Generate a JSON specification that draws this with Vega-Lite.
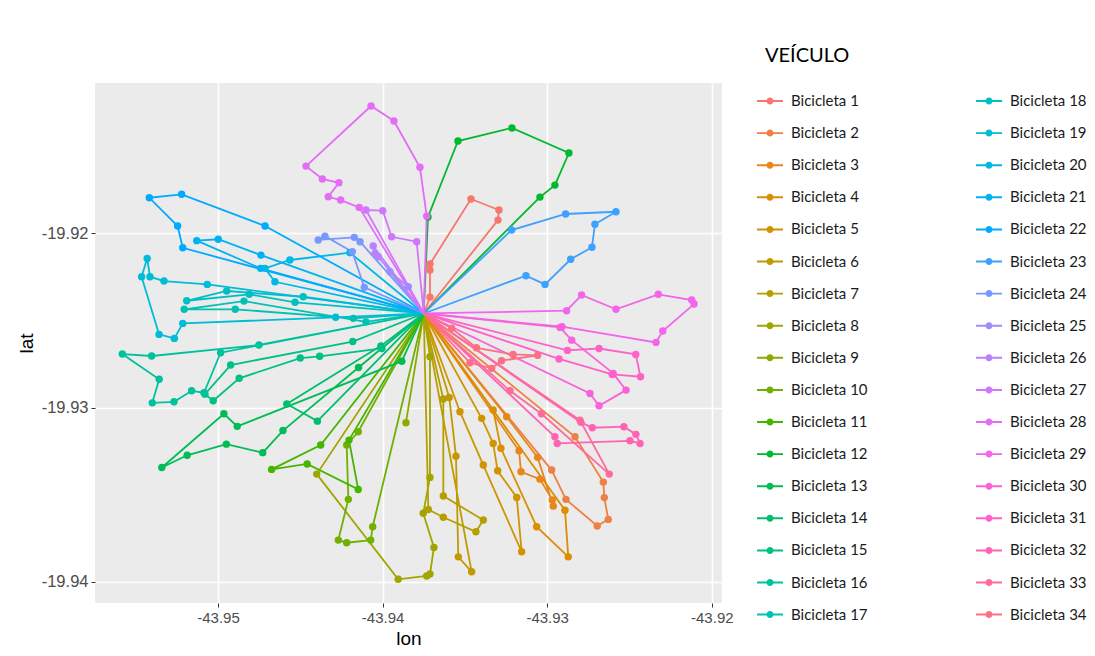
{
"$schema": "https://vega.github.io/schema/vega-lite/v6.json",
"width": 627, "height": 520,
"autosize": {"type": "none"},
"padding": {"left": 95, "top": 83, "right": 373, "bottom": 53},
"background": "white",
"config": {
 "view": {"fill": "#EBEBEB", "stroke": null},
 "axis": {"domain": false, "grid": true, "gridColor": "#FFFFFF", "gridWidth": 1.6, "tickColor": "#333333", "tickSize": 4, "tickWidth": 1, "labelColor": "#4D4D4D", "labelFont": "Liberation Sans", "labelFontSize": 15, "labelPadding": 3, "titleColor": "#000000", "titleFont": "Liberation Sans", "titleFontSize": 19, "titleFontWeight": "normal"}
},
"data": {"values": [
{"veiculo":"Bicicleta 1","seq":0,"dep":1,"lon":-43.9375,"lat":-19.9246},
{"veiculo":"Bicicleta 1","seq":1,"dep":0,"lon":-43.93712,"lat":-19.92366},
{"veiculo":"Bicicleta 1","seq":2,"dep":0,"lon":-43.93712,"lat":-19.92211},
{"veiculo":"Bicicleta 1","seq":3,"dep":0,"lon":-43.93712,"lat":-19.92176},
{"veiculo":"Bicicleta 1","seq":4,"dep":0,"lon":-43.93463,"lat":-19.91803},
{"veiculo":"Bicicleta 1","seq":5,"dep":0,"lon":-43.93293,"lat":-19.91866},
{"veiculo":"Bicicleta 1","seq":6,"dep":0,"lon":-43.93299,"lat":-19.91924},
{"veiculo":"Bicicleta 1","seq":7,"dep":1,"lon":-43.9375,"lat":-19.9246},
{"veiculo":"Bicicleta 2","seq":0,"dep":1,"lon":-43.9375,"lat":-19.9246},
{"veiculo":"Bicicleta 2","seq":1,"dep":0,"lon":-43.92831,"lat":-19.93168},
{"veiculo":"Bicicleta 2","seq":2,"dep":0,"lon":-43.92659,"lat":-19.93428},
{"veiculo":"Bicicleta 2","seq":3,"dep":0,"lon":-43.92653,"lat":-19.93517},
{"veiculo":"Bicicleta 2","seq":4,"dep":0,"lon":-43.92629,"lat":-19.93642},
{"veiculo":"Bicicleta 2","seq":5,"dep":0,"lon":-43.92696,"lat":-19.9368},
{"veiculo":"Bicicleta 2","seq":6,"dep":0,"lon":-43.92886,"lat":-19.93527},
{"veiculo":"Bicicleta 2","seq":7,"dep":0,"lon":-43.92973,"lat":-19.93359},
{"veiculo":"Bicicleta 2","seq":8,"dep":1,"lon":-43.9375,"lat":-19.9246},
{"veiculo":"Bicicleta 3","seq":0,"dep":1,"lon":-43.9375,"lat":-19.9246},
{"veiculo":"Bicicleta 3","seq":1,"dep":0,"lon":-43.93246,"lat":-19.93053},
{"veiculo":"Bicicleta 3","seq":2,"dep":0,"lon":-43.93058,"lat":-19.93286},
{"veiculo":"Bicicleta 3","seq":3,"dep":0,"lon":-43.92963,"lat":-19.93566},
{"veiculo":"Bicicleta 3","seq":4,"dep":0,"lon":-43.92969,"lat":-19.93531},
{"veiculo":"Bicicleta 3","seq":5,"dep":0,"lon":-43.93044,"lat":-19.93411},
{"veiculo":"Bicicleta 3","seq":6,"dep":0,"lon":-43.93159,"lat":-19.93369},
{"veiculo":"Bicicleta 3","seq":7,"dep":0,"lon":-43.93171,"lat":-19.93248},
{"veiculo":"Bicicleta 3","seq":8,"dep":1,"lon":-43.9375,"lat":-19.9246},
{"veiculo":"Bicicleta 4","seq":0,"dep":1,"lon":-43.9375,"lat":-19.9246},
{"veiculo":"Bicicleta 4","seq":1,"dep":0,"lon":-43.93328,"lat":-19.93014},
{"veiculo":"Bicicleta 4","seq":2,"dep":0,"lon":-43.93281,"lat":-19.93234},
{"veiculo":"Bicicleta 4","seq":3,"dep":0,"lon":-43.93064,"lat":-19.93684},
{"veiculo":"Bicicleta 4","seq":4,"dep":0,"lon":-43.92872,"lat":-19.93857},
{"veiculo":"Bicicleta 4","seq":5,"dep":0,"lon":-43.92892,"lat":-19.93589},
{"veiculo":"Bicicleta 4","seq":6,"dep":1,"lon":-43.9375,"lat":-19.9246},
{"veiculo":"Bicicleta 5","seq":0,"dep":1,"lon":-43.9375,"lat":-19.9246},
{"veiculo":"Bicicleta 5","seq":1,"dep":0,"lon":-43.9353,"lat":-19.93024},
{"veiculo":"Bicicleta 5","seq":2,"dep":0,"lon":-43.93388,"lat":-19.9333},
{"veiculo":"Bicicleta 5","seq":3,"dep":0,"lon":-43.93155,"lat":-19.93828},
{"veiculo":"Bicicleta 5","seq":4,"dep":0,"lon":-43.93185,"lat":-19.93516},
{"veiculo":"Bicicleta 5","seq":5,"dep":0,"lon":-43.93301,"lat":-19.93363},
{"veiculo":"Bicicleta 5","seq":6,"dep":0,"lon":-43.93328,"lat":-19.93206},
{"veiculo":"Bicicleta 5","seq":7,"dep":0,"lon":-43.93398,"lat":-19.93062},
{"veiculo":"Bicicleta 5","seq":8,"dep":1,"lon":-43.9375,"lat":-19.9246},
{"veiculo":"Bicicleta 6","seq":0,"dep":1,"lon":-43.9375,"lat":-19.9246},
{"veiculo":"Bicicleta 6","seq":1,"dep":0,"lon":-43.93595,"lat":-19.92942},
{"veiculo":"Bicicleta 6","seq":2,"dep":0,"lon":-43.93554,"lat":-19.93279},
{"veiculo":"Bicicleta 6","seq":3,"dep":0,"lon":-43.9354,"lat":-19.93857},
{"veiculo":"Bicicleta 6","seq":4,"dep":0,"lon":-43.93459,"lat":-19.93943},
{"veiculo":"Bicicleta 6","seq":5,"dep":1,"lon":-43.9375,"lat":-19.9246},
{"veiculo":"Bicicleta 7","seq":0,"dep":1,"lon":-43.9375,"lat":-19.9246},
{"veiculo":"Bicicleta 7","seq":1,"dep":0,"lon":-43.93631,"lat":-19.92951},
{"veiculo":"Bicicleta 7","seq":2,"dep":0,"lon":-43.93631,"lat":-19.93508},
{"veiculo":"Bicicleta 7","seq":3,"dep":0,"lon":-43.93388,"lat":-19.93646},
{"veiculo":"Bicicleta 7","seq":4,"dep":0,"lon":-43.93433,"lat":-19.93713},
{"veiculo":"Bicicleta 7","seq":5,"dep":0,"lon":-43.93631,"lat":-19.9363},
{"veiculo":"Bicicleta 7","seq":6,"dep":0,"lon":-43.93722,"lat":-19.93585},
{"veiculo":"Bicicleta 7","seq":7,"dep":1,"lon":-43.9375,"lat":-19.9246},
{"veiculo":"Bicicleta 8","seq":0,"dep":1,"lon":-43.9375,"lat":-19.9246},
{"veiculo":"Bicicleta 8","seq":1,"dep":0,"lon":-43.93712,"lat":-19.92708},
{"veiculo":"Bicicleta 8","seq":2,"dep":0,"lon":-43.93712,"lat":-19.93401},
{"veiculo":"Bicicleta 8","seq":3,"dep":0,"lon":-43.93753,"lat":-19.93607},
{"veiculo":"Bicicleta 8","seq":4,"dep":0,"lon":-43.93688,"lat":-19.93803},
{"veiculo":"Bicicleta 8","seq":5,"dep":0,"lon":-43.93712,"lat":-19.93956},
{"veiculo":"Bicicleta 8","seq":6,"dep":0,"lon":-43.93732,"lat":-19.93967},
{"veiculo":"Bicicleta 8","seq":7,"dep":0,"lon":-43.93905,"lat":-19.93986},
{"veiculo":"Bicicleta 8","seq":8,"dep":0,"lon":-43.944,"lat":-19.93382},
{"veiculo":"Bicicleta 8","seq":9,"dep":1,"lon":-43.9375,"lat":-19.9246},
{"veiculo":"Bicicleta 9","seq":0,"dep":1,"lon":-43.9375,"lat":-19.9246},
{"veiculo":"Bicicleta 9","seq":1,"dep":0,"lon":-43.93858,"lat":-19.93087},
{"veiculo":"Bicicleta 9","seq":2,"dep":1,"lon":-43.9375,"lat":-19.9246},
{"veiculo":"Bicicleta 10","seq":0,"dep":1,"lon":-43.9375,"lat":-19.9246},
{"veiculo":"Bicicleta 10","seq":1,"dep":0,"lon":-43.9406,"lat":-19.93684},
{"veiculo":"Bicicleta 10","seq":2,"dep":0,"lon":-43.94072,"lat":-19.93761},
{"veiculo":"Bicicleta 10","seq":3,"dep":0,"lon":-43.94218,"lat":-19.93776},
{"veiculo":"Bicicleta 10","seq":4,"dep":0,"lon":-43.94269,"lat":-19.93761},
{"veiculo":"Bicicleta 10","seq":5,"dep":0,"lon":-43.94208,"lat":-19.93527},
{"veiculo":"Bicicleta 10","seq":6,"dep":0,"lon":-43.94218,"lat":-19.93215},
{"veiculo":"Bicicleta 10","seq":7,"dep":0,"lon":-43.94148,"lat":-19.93139},
{"veiculo":"Bicicleta 10","seq":8,"dep":1,"lon":-43.9375,"lat":-19.9246},
{"veiculo":"Bicicleta 11","seq":0,"dep":1,"lon":-43.9375,"lat":-19.9246},
{"veiculo":"Bicicleta 11","seq":1,"dep":0,"lon":-43.94376,"lat":-19.93215},
{"veiculo":"Bicicleta 11","seq":2,"dep":0,"lon":-43.94674,"lat":-19.93355},
{"veiculo":"Bicicleta 11","seq":3,"dep":0,"lon":-43.94458,"lat":-19.93324},
{"veiculo":"Bicicleta 11","seq":4,"dep":0,"lon":-43.94148,"lat":-19.9347},
{"veiculo":"Bicicleta 11","seq":5,"dep":0,"lon":-43.94204,"lat":-19.93187},
{"veiculo":"Bicicleta 11","seq":6,"dep":1,"lon":-43.9375,"lat":-19.9246},
{"veiculo":"Bicicleta 12","seq":0,"dep":1,"lon":-43.9375,"lat":-19.9246},
{"veiculo":"Bicicleta 12","seq":1,"dep":0,"lon":-43.93724,"lat":-19.91906},
{"veiculo":"Bicicleta 12","seq":2,"dep":0,"lon":-43.93542,"lat":-19.9147},
{"veiculo":"Bicicleta 12","seq":3,"dep":0,"lon":-43.93214,"lat":-19.91395},
{"veiculo":"Bicicleta 12","seq":4,"dep":0,"lon":-43.92868,"lat":-19.91539},
{"veiculo":"Bicicleta 12","seq":5,"dep":0,"lon":-43.92953,"lat":-19.91723},
{"veiculo":"Bicicleta 12","seq":6,"dep":0,"lon":-43.93044,"lat":-19.91792},
{"veiculo":"Bicicleta 12","seq":7,"dep":1,"lon":-43.9375,"lat":-19.9246},
{"veiculo":"Bicicleta 13","seq":0,"dep":1,"lon":-43.9375,"lat":-19.9246},
{"veiculo":"Bicicleta 13","seq":1,"dep":0,"lon":-43.94146,"lat":-19.9277},
{"veiculo":"Bicicleta 13","seq":2,"dep":0,"lon":-43.94605,"lat":-19.93132},
{"veiculo":"Bicicleta 13","seq":3,"dep":0,"lon":-43.94728,"lat":-19.93259},
{"veiculo":"Bicicleta 13","seq":4,"dep":0,"lon":-43.94949,"lat":-19.9321},
{"veiculo":"Bicicleta 13","seq":5,"dep":0,"lon":-43.95187,"lat":-19.93274},
{"veiculo":"Bicicleta 13","seq":6,"dep":0,"lon":-43.95341,"lat":-19.93344},
{"veiculo":"Bicicleta 13","seq":7,"dep":0,"lon":-43.94964,"lat":-19.93036},
{"veiculo":"Bicicleta 13","seq":8,"dep":0,"lon":-43.94883,"lat":-19.93108},
{"veiculo":"Bicicleta 13","seq":9,"dep":0,"lon":-43.93883,"lat":-19.92734},
{"veiculo":"Bicicleta 13","seq":10,"dep":1,"lon":-43.9375,"lat":-19.9246},
{"veiculo":"Bicicleta 14","seq":0,"dep":1,"lon":-43.9375,"lat":-19.9246},
{"veiculo":"Bicicleta 14","seq":1,"dep":0,"lon":-43.9401,"lat":-19.92646},
{"veiculo":"Bicicleta 14","seq":2,"dep":0,"lon":-43.94582,"lat":-19.9298},
{"veiculo":"Bicicleta 14","seq":3,"dep":0,"lon":-43.94396,"lat":-19.93078},
{"veiculo":"Bicicleta 14","seq":4,"dep":1,"lon":-43.9375,"lat":-19.9246},
{"veiculo":"Bicicleta 15","seq":0,"dep":1,"lon":-43.9375,"lat":-19.9246},
{"veiculo":"Bicicleta 15","seq":1,"dep":0,"lon":-43.94004,"lat":-19.92661},
{"veiculo":"Bicicleta 15","seq":2,"dep":0,"lon":-43.94382,"lat":-19.92706},
{"veiculo":"Bicicleta 15","seq":3,"dep":0,"lon":-43.945,"lat":-19.92716},
{"veiculo":"Bicicleta 15","seq":4,"dep":0,"lon":-43.94871,"lat":-19.92832},
{"veiculo":"Bicicleta 15","seq":5,"dep":0,"lon":-43.95029,"lat":-19.92961},
{"veiculo":"Bicicleta 15","seq":6,"dep":0,"lon":-43.95079,"lat":-19.92923},
{"veiculo":"Bicicleta 15","seq":7,"dep":0,"lon":-43.94923,"lat":-19.92756},
{"veiculo":"Bicicleta 15","seq":8,"dep":0,"lon":-43.94181,"lat":-19.92621},
{"veiculo":"Bicicleta 15","seq":9,"dep":1,"lon":-43.9375,"lat":-19.9246},
{"veiculo":"Bicicleta 16","seq":0,"dep":1,"lon":-43.9375,"lat":-19.9246},
{"veiculo":"Bicicleta 16","seq":1,"dep":0,"lon":-43.94751,"lat":-19.92641},
{"veiculo":"Bicicleta 16","seq":2,"dep":0,"lon":-43.95403,"lat":-19.92704},
{"veiculo":"Bicicleta 16","seq":3,"dep":0,"lon":-43.95581,"lat":-19.92693},
{"veiculo":"Bicicleta 16","seq":4,"dep":0,"lon":-43.95357,"lat":-19.92838},
{"veiculo":"Bicicleta 16","seq":5,"dep":0,"lon":-43.95399,"lat":-19.92973},
{"veiculo":"Bicicleta 16","seq":6,"dep":0,"lon":-43.95267,"lat":-19.92967},
{"veiculo":"Bicicleta 16","seq":7,"dep":0,"lon":-43.9516,"lat":-19.92904},
{"veiculo":"Bicicleta 16","seq":8,"dep":0,"lon":-43.95085,"lat":-19.92915},
{"veiculo":"Bicicleta 16","seq":9,"dep":0,"lon":-43.94984,"lat":-19.92685},
{"veiculo":"Bicicleta 16","seq":10,"dep":1,"lon":-43.9375,"lat":-19.9246},
{"veiculo":"Bicicleta 17","seq":0,"dep":1,"lon":-43.9375,"lat":-19.9246},
{"veiculo":"Bicicleta 17","seq":1,"dep":0,"lon":-43.94101,"lat":-19.92508},
{"veiculo":"Bicicleta 17","seq":2,"dep":0,"lon":-43.94842,"lat":-19.92389},
{"veiculo":"Bicicleta 17","seq":3,"dep":0,"lon":-43.95205,"lat":-19.92436},
{"veiculo":"Bicicleta 17","seq":4,"dep":0,"lon":-43.94895,"lat":-19.92436},
{"veiculo":"Bicicleta 17","seq":5,"dep":0,"lon":-43.94178,"lat":-19.92488},
{"veiculo":"Bicicleta 17","seq":6,"dep":1,"lon":-43.9375,"lat":-19.9246},
{"veiculo":"Bicicleta 18","seq":0,"dep":1,"lon":-43.9375,"lat":-19.9246},
{"veiculo":"Bicicleta 18","seq":1,"dep":0,"lon":-43.94482,"lat":-19.92364},
{"veiculo":"Bicicleta 18","seq":2,"dep":0,"lon":-43.94947,"lat":-19.92331},
{"veiculo":"Bicicleta 18","seq":3,"dep":0,"lon":-43.9519,"lat":-19.92387},
{"veiculo":"Bicicleta 18","seq":4,"dep":0,"lon":-43.9481,"lat":-19.9235},
{"veiculo":"Bicicleta 18","seq":5,"dep":0,"lon":-43.94532,"lat":-19.92396},
{"veiculo":"Bicicleta 18","seq":6,"dep":1,"lon":-43.9375,"lat":-19.9246},
{"veiculo":"Bicicleta 19","seq":0,"dep":1,"lon":-43.9375,"lat":-19.9246},
{"veiculo":"Bicicleta 19","seq":1,"dep":0,"lon":-43.95065,"lat":-19.92293},
{"veiculo":"Bicicleta 19","seq":2,"dep":0,"lon":-43.95328,"lat":-19.92274},
{"veiculo":"Bicicleta 19","seq":3,"dep":0,"lon":-43.95413,"lat":-19.92249},
{"veiculo":"Bicicleta 19","seq":4,"dep":0,"lon":-43.9543,"lat":-19.92144},
{"veiculo":"Bicicleta 19","seq":5,"dep":0,"lon":-43.95464,"lat":-19.92249},
{"veiculo":"Bicicleta 19","seq":6,"dep":0,"lon":-43.95358,"lat":-19.9258},
{"veiculo":"Bicicleta 19","seq":7,"dep":0,"lon":-43.95265,"lat":-19.92603},
{"veiculo":"Bicicleta 19","seq":8,"dep":0,"lon":-43.95214,"lat":-19.92517},
{"veiculo":"Bicicleta 19","seq":9,"dep":0,"lon":-43.94285,"lat":-19.92482},
{"veiculo":"Bicicleta 19","seq":10,"dep":1,"lon":-43.9375,"lat":-19.9246},
{"veiculo":"Bicicleta 20","seq":0,"dep":1,"lon":-43.9375,"lat":-19.9246},
{"veiculo":"Bicicleta 20","seq":1,"dep":0,"lon":-43.94198,"lat":-19.92111},
{"veiculo":"Bicicleta 20","seq":2,"dep":0,"lon":-43.94563,"lat":-19.92153},
{"veiculo":"Bicicleta 20","seq":3,"dep":0,"lon":-43.94714,"lat":-19.92201},
{"veiculo":"Bicicleta 20","seq":4,"dep":0,"lon":-43.94654,"lat":-19.92278},
{"veiculo":"Bicicleta 20","seq":5,"dep":1,"lon":-43.9375,"lat":-19.9246},
{"veiculo":"Bicicleta 21","seq":0,"dep":1,"lon":-43.9375,"lat":-19.9246},
{"veiculo":"Bicicleta 21","seq":1,"dep":0,"lon":-43.94739,"lat":-19.92125},
{"veiculo":"Bicicleta 21","seq":2,"dep":0,"lon":-43.94998,"lat":-19.92034},
{"veiculo":"Bicicleta 21","seq":3,"dep":0,"lon":-43.95129,"lat":-19.92042},
{"veiculo":"Bicicleta 21","seq":4,"dep":0,"lon":-43.94741,"lat":-19.92201},
{"veiculo":"Bicicleta 21","seq":5,"dep":1,"lon":-43.9375,"lat":-19.9246},
{"veiculo":"Bicicleta 22","seq":0,"dep":1,"lon":-43.9375,"lat":-19.9246},
{"veiculo":"Bicicleta 22","seq":1,"dep":0,"lon":-43.94714,"lat":-19.91958},
{"veiculo":"Bicicleta 22","seq":2,"dep":0,"lon":-43.95221,"lat":-19.91776},
{"veiculo":"Bicicleta 22","seq":3,"dep":0,"lon":-43.95417,"lat":-19.91796},
{"veiculo":"Bicicleta 22","seq":4,"dep":0,"lon":-43.95245,"lat":-19.91958},
{"veiculo":"Bicicleta 22","seq":5,"dep":0,"lon":-43.95214,"lat":-19.92083},
{"veiculo":"Bicicleta 22","seq":6,"dep":1,"lon":-43.9375,"lat":-19.9246},
{"veiculo":"Bicicleta 23","seq":0,"dep":1,"lon":-43.9375,"lat":-19.9246},
{"veiculo":"Bicicleta 23","seq":1,"dep":0,"lon":-43.93216,"lat":-19.91981},
{"veiculo":"Bicicleta 23","seq":2,"dep":0,"lon":-43.92888,"lat":-19.91889},
{"veiculo":"Bicicleta 23","seq":3,"dep":0,"lon":-43.92582,"lat":-19.91876},
{"veiculo":"Bicicleta 23","seq":4,"dep":0,"lon":-43.9271,"lat":-19.91948},
{"veiculo":"Bicicleta 23","seq":5,"dep":0,"lon":-43.92728,"lat":-19.9208},
{"veiculo":"Bicicleta 23","seq":6,"dep":0,"lon":-43.92857,"lat":-19.92149},
{"veiculo":"Bicicleta 23","seq":7,"dep":0,"lon":-43.93013,"lat":-19.92293},
{"veiculo":"Bicicleta 23","seq":8,"dep":0,"lon":-43.93129,"lat":-19.92243},
{"veiculo":"Bicicleta 23","seq":9,"dep":1,"lon":-43.9375,"lat":-19.9246},
{"veiculo":"Bicicleta 24","seq":0,"dep":1,"lon":-43.9375,"lat":-19.9246},
{"veiculo":"Bicicleta 24","seq":1,"dep":0,"lon":-43.94137,"lat":-19.92048},
{"veiculo":"Bicicleta 24","seq":2,"dep":0,"lon":-43.94172,"lat":-19.92023},
{"veiculo":"Bicicleta 24","seq":3,"dep":0,"lon":-43.94391,"lat":-19.92038},
{"veiculo":"Bicicleta 24","seq":4,"dep":0,"lon":-43.9435,"lat":-19.92016},
{"veiculo":"Bicicleta 24","seq":5,"dep":0,"lon":-43.94184,"lat":-19.92106},
{"veiculo":"Bicicleta 24","seq":6,"dep":0,"lon":-43.94111,"lat":-19.9231},
{"veiculo":"Bicicleta 24","seq":7,"dep":1,"lon":-43.9375,"lat":-19.9246},
{"veiculo":"Bicicleta 25","seq":0,"dep":1,"lon":-43.9375,"lat":-19.9246},
{"veiculo":"Bicicleta 25","seq":1,"dep":0,"lon":-43.93844,"lat":-19.92307},
{"veiculo":"Bicicleta 25","seq":2,"dep":0,"lon":-43.93955,"lat":-19.9222},
{"veiculo":"Bicicleta 25","seq":3,"dep":1,"lon":-43.9375,"lat":-19.9246},
{"veiculo":"Bicicleta 26","seq":0,"dep":1,"lon":-43.9375,"lat":-19.9246},
{"veiculo":"Bicicleta 26","seq":1,"dep":0,"lon":-43.94026,"lat":-19.92134},
{"veiculo":"Bicicleta 26","seq":2,"dep":0,"lon":-43.94046,"lat":-19.92115},
{"veiculo":"Bicicleta 26","seq":3,"dep":0,"lon":-43.94057,"lat":-19.92073},
{"veiculo":"Bicicleta 26","seq":4,"dep":1,"lon":-43.9375,"lat":-19.9246},
{"veiculo":"Bicicleta 27","seq":0,"dep":1,"lon":-43.9375,"lat":-19.9246},
{"veiculo":"Bicicleta 27","seq":1,"dep":0,"lon":-43.94101,"lat":-19.91866},
{"veiculo":"Bicicleta 27","seq":2,"dep":0,"lon":-43.93999,"lat":-19.9187},
{"veiculo":"Bicicleta 27","seq":3,"dep":0,"lon":-43.93945,"lat":-19.9202},
{"veiculo":"Bicicleta 27","seq":4,"dep":0,"lon":-43.93793,"lat":-19.92048},
{"veiculo":"Bicicleta 27","seq":5,"dep":1,"lon":-43.9375,"lat":-19.9246},
{"veiculo":"Bicicleta 28","seq":0,"dep":1,"lon":-43.9375,"lat":-19.9246},
{"veiculo":"Bicicleta 28","seq":1,"dep":0,"lon":-43.93732,"lat":-19.91901},
{"veiculo":"Bicicleta 28","seq":2,"dep":0,"lon":-43.93773,"lat":-19.91621},
{"veiculo":"Bicicleta 28","seq":3,"dep":0,"lon":-43.93931,"lat":-19.91355},
{"veiculo":"Bicicleta 28","seq":4,"dep":0,"lon":-43.9407,"lat":-19.91269},
{"veiculo":"Bicicleta 28","seq":5,"dep":0,"lon":-43.94465,"lat":-19.91614},
{"veiculo":"Bicicleta 28","seq":6,"dep":0,"lon":-43.94366,"lat":-19.91688},
{"veiculo":"Bicicleta 28","seq":7,"dep":0,"lon":-43.94265,"lat":-19.9171},
{"veiculo":"Bicicleta 28","seq":8,"dep":0,"lon":-43.9433,"lat":-19.9179},
{"veiculo":"Bicicleta 28","seq":9,"dep":0,"lon":-43.94255,"lat":-19.91809},
{"veiculo":"Bicicleta 28","seq":10,"dep":0,"lon":-43.94142,"lat":-19.91851},
{"veiculo":"Bicicleta 28","seq":11,"dep":1,"lon":-43.9375,"lat":-19.9246},
{"veiculo":"Bicicleta 29","seq":0,"dep":1,"lon":-43.9375,"lat":-19.9246},
{"veiculo":"Bicicleta 29","seq":1,"dep":0,"lon":-43.92882,"lat":-19.92444},
{"veiculo":"Bicicleta 29","seq":2,"dep":0,"lon":-43.92791,"lat":-19.92354},
{"veiculo":"Bicicleta 29","seq":3,"dep":0,"lon":-43.92582,"lat":-19.92436},
{"veiculo":"Bicicleta 29","seq":4,"dep":0,"lon":-43.92325,"lat":-19.9235},
{"veiculo":"Bicicleta 29","seq":5,"dep":0,"lon":-43.92122,"lat":-19.92383},
{"veiculo":"Bicicleta 29","seq":6,"dep":0,"lon":-43.92108,"lat":-19.92406},
{"veiculo":"Bicicleta 29","seq":7,"dep":0,"lon":-43.92298,"lat":-19.92561},
{"veiculo":"Bicicleta 29","seq":8,"dep":0,"lon":-43.92339,"lat":-19.92626},
{"veiculo":"Bicicleta 29","seq":9,"dep":0,"lon":-43.9291,"lat":-19.92536},
{"veiculo":"Bicicleta 29","seq":10,"dep":1,"lon":-43.9375,"lat":-19.9246},
{"veiculo":"Bicicleta 30","seq":0,"dep":1,"lon":-43.9375,"lat":-19.9246},
{"veiculo":"Bicicleta 30","seq":1,"dep":0,"lon":-43.92922,"lat":-19.9254},
{"veiculo":"Bicicleta 30","seq":2,"dep":0,"lon":-43.92851,"lat":-19.92613},
{"veiculo":"Bicicleta 30","seq":3,"dep":0,"lon":-43.92599,"lat":-19.92804},
{"veiculo":"Bicicleta 30","seq":4,"dep":0,"lon":-43.92521,"lat":-19.929},
{"veiculo":"Bicicleta 30","seq":5,"dep":0,"lon":-43.92685,"lat":-19.9299},
{"veiculo":"Bicicleta 30","seq":6,"dep":0,"lon":-43.9274,"lat":-19.92919},
{"veiculo":"Bicicleta 30","seq":7,"dep":1,"lon":-43.9375,"lat":-19.9246},
{"veiculo":"Bicicleta 31","seq":0,"dep":1,"lon":-43.9375,"lat":-19.9246},
{"veiculo":"Bicicleta 31","seq":1,"dep":0,"lon":-43.92877,"lat":-19.92672},
{"veiculo":"Bicicleta 31","seq":2,"dep":0,"lon":-43.92685,"lat":-19.92661},
{"veiculo":"Bicicleta 31","seq":3,"dep":0,"lon":-43.92462,"lat":-19.92695},
{"veiculo":"Bicicleta 31","seq":4,"dep":0,"lon":-43.92433,"lat":-19.92823},
{"veiculo":"Bicicleta 31","seq":5,"dep":0,"lon":-43.92605,"lat":-19.9281},
{"veiculo":"Bicicleta 31","seq":6,"dep":0,"lon":-43.92928,"lat":-19.92721},
{"veiculo":"Bicicleta 31","seq":7,"dep":1,"lon":-43.9375,"lat":-19.9246},
{"veiculo":"Bicicleta 32","seq":0,"dep":1,"lon":-43.9375,"lat":-19.9246},
{"veiculo":"Bicicleta 32","seq":1,"dep":0,"lon":-43.92795,"lat":-19.93085},
{"veiculo":"Bicicleta 32","seq":2,"dep":0,"lon":-43.92726,"lat":-19.93116},
{"veiculo":"Bicicleta 32","seq":3,"dep":0,"lon":-43.92534,"lat":-19.9311},
{"veiculo":"Bicicleta 32","seq":4,"dep":0,"lon":-43.92461,"lat":-19.93154},
{"veiculo":"Bicicleta 32","seq":5,"dep":0,"lon":-43.92436,"lat":-19.93206},
{"veiculo":"Bicicleta 32","seq":6,"dep":0,"lon":-43.92497,"lat":-19.93191},
{"veiculo":"Bicicleta 32","seq":7,"dep":0,"lon":-43.92939,"lat":-19.93206},
{"veiculo":"Bicicleta 32","seq":8,"dep":0,"lon":-43.92953,"lat":-19.93168},
{"veiculo":"Bicicleta 32","seq":9,"dep":1,"lon":-43.9375,"lat":-19.9246},
{"veiculo":"Bicicleta 33","seq":0,"dep":1,"lon":-43.9375,"lat":-19.9246},
{"veiculo":"Bicicleta 33","seq":1,"dep":0,"lon":-43.93226,"lat":-19.92904},
{"veiculo":"Bicicleta 33","seq":2,"dep":0,"lon":-43.93035,"lat":-19.93036},
{"veiculo":"Bicicleta 33","seq":3,"dep":0,"lon":-43.92623,"lat":-19.93382},
{"veiculo":"Bicicleta 33","seq":4,"dep":0,"lon":-43.92801,"lat":-19.93072},
{"veiculo":"Bicicleta 33","seq":5,"dep":1,"lon":-43.9375,"lat":-19.9246},
{"veiculo":"Bicicleta 34","seq":0,"dep":1,"lon":-43.9375,"lat":-19.9246},
{"veiculo":"Bicicleta 34","seq":1,"dep":0,"lon":-43.9358,"lat":-19.92545},
{"veiculo":"Bicicleta 34","seq":2,"dep":0,"lon":-43.9343,"lat":-19.92657},
{"veiculo":"Bicicleta 34","seq":3,"dep":0,"lon":-43.93207,"lat":-19.92695},
{"veiculo":"Bicicleta 34","seq":4,"dep":0,"lon":-43.93058,"lat":-19.927},
{"veiculo":"Bicicleta 34","seq":5,"dep":0,"lon":-43.93277,"lat":-19.92731},
{"veiculo":"Bicicleta 34","seq":6,"dep":0,"lon":-43.93337,"lat":-19.92775},
{"veiculo":"Bicicleta 34","seq":7,"dep":0,"lon":-43.93469,"lat":-19.92743},
{"veiculo":"Bicicleta 34","seq":8,"dep":1,"lon":-43.9375,"lat":-19.9246}
]},
"encoding": {
 "x": {"field": "lon", "type": "quantitative", "scale": {"domain": [-43.95747, -43.91938], "zero": false, "nice": false}, "axis": {"values": [-43.95, -43.94, -43.93, -43.92], "format": ".2f", "labelExpr": "replace(datum.label, '\u2212', '-')", "title": "lon", "titlePadding": 4}},
 "y": {"field": "lat", "type": "quantitative", "scale": {"domain": [-19.94122, -19.91137], "zero": false, "nice": false}, "axis": {"values": [-19.94, -19.93, -19.92], "format": ".2f", "labelExpr": "replace(datum.label, '\u2212', '-')", "labelFontSize": 16.5, "title": "lat", "titlePadding": 5}},
 "color": {"field": "veiculo", "type": "nominal",
  "scale": {
   "domain": ["Bicicleta 1","Bicicleta 2","Bicicleta 3","Bicicleta 4","Bicicleta 5","Bicicleta 6","Bicicleta 7","Bicicleta 8","Bicicleta 9","Bicicleta 10","Bicicleta 11","Bicicleta 12","Bicicleta 13","Bicicleta 14","Bicicleta 15","Bicicleta 16","Bicicleta 17","Bicicleta 18","Bicicleta 19","Bicicleta 20","Bicicleta 21","Bicicleta 22","Bicicleta 23","Bicicleta 24","Bicicleta 25","Bicicleta 26","Bicicleta 27","Bicicleta 28","Bicicleta 29","Bicicleta 30","Bicicleta 31","Bicicleta 32","Bicicleta 33","Bicicleta 34"],
   "range": ["#F8766D","#EE8044","#E6861C","#DC8D00","#CF9400","#C29A00","#B3A000","#A1A500","#8BAB00","#6FB000","#45B500","#00B92E","#00BC55","#00BE6D","#00C086","#00C19D","#00C1B2","#00BFC4","#00BCD6","#00B8E5","#00B2F2","#00AAFE","#3DA1FF","#7798FF","#9A8EFF","#BA81FF","#D177FD","#E36DF5","#F166EA","#FA62DA","#FF61C8","#FF63B4","#FF6A9B","#FB7083"]
  },
  "legend": {"orient": "none", "legendX": 662, "legendY": -37, "columns": 2, "columnPadding": 108, "rowPadding": 11.1, "title": "VEÍCULO", "titleFont": "Lato", "titleFontSize": 20, "titleFontWeight": "normal", "titleColor": "#000000", "titlePadding": 22, "labelFont": "Lato", "labelFontSize": 15, "labelColor": "#1A1A1A", "labelOffset": 8, "symbolLimit": 50, "symbolSize": 676, "symbolStrokeWidth": 0,
   "symbolType": "M-1,-0.075L-0.2,-0.075L-0.2,0.075L-1,0.075Z M0.2,-0.075L1,-0.075L1,0.075L0.2,0.075Z M-0.27,0A0.27,0.27 0 1,1 0.27,0A0.27,0.27 0 1,1 -0.27,0Z",
   "encode": {"title": {"update": {"dx": {"value": 8}}}, "symbols": {"update": {"fill": {"scale": "color", "field": "value"}, "stroke": {"value": "transparent"}, "opacity": {"value": 1}, "size": {"value": 676}, "shape": {"value": "M-1,-0.075L-0.2,-0.075L-0.2,0.075L-1,0.075Z M0.2,-0.075L1,-0.075L1,0.075L0.2,0.075Z M-0.27,0A0.27,0.27 0 1,1 0.27,0A0.27,0.27 0 1,1 -0.27,0Z"}}}}
  }
 }
},
"layer": [
 {"mark": {"type": "line", "strokeWidth": 1.8}, "encoding": {"order": {"field": "seq", "type": "quantitative"}}},
 {"transform": [{"filter": "datum.dep == 0"}], "mark": {"type": "point", "filled": true, "size": 55, "opacity": 1}}
]
}
